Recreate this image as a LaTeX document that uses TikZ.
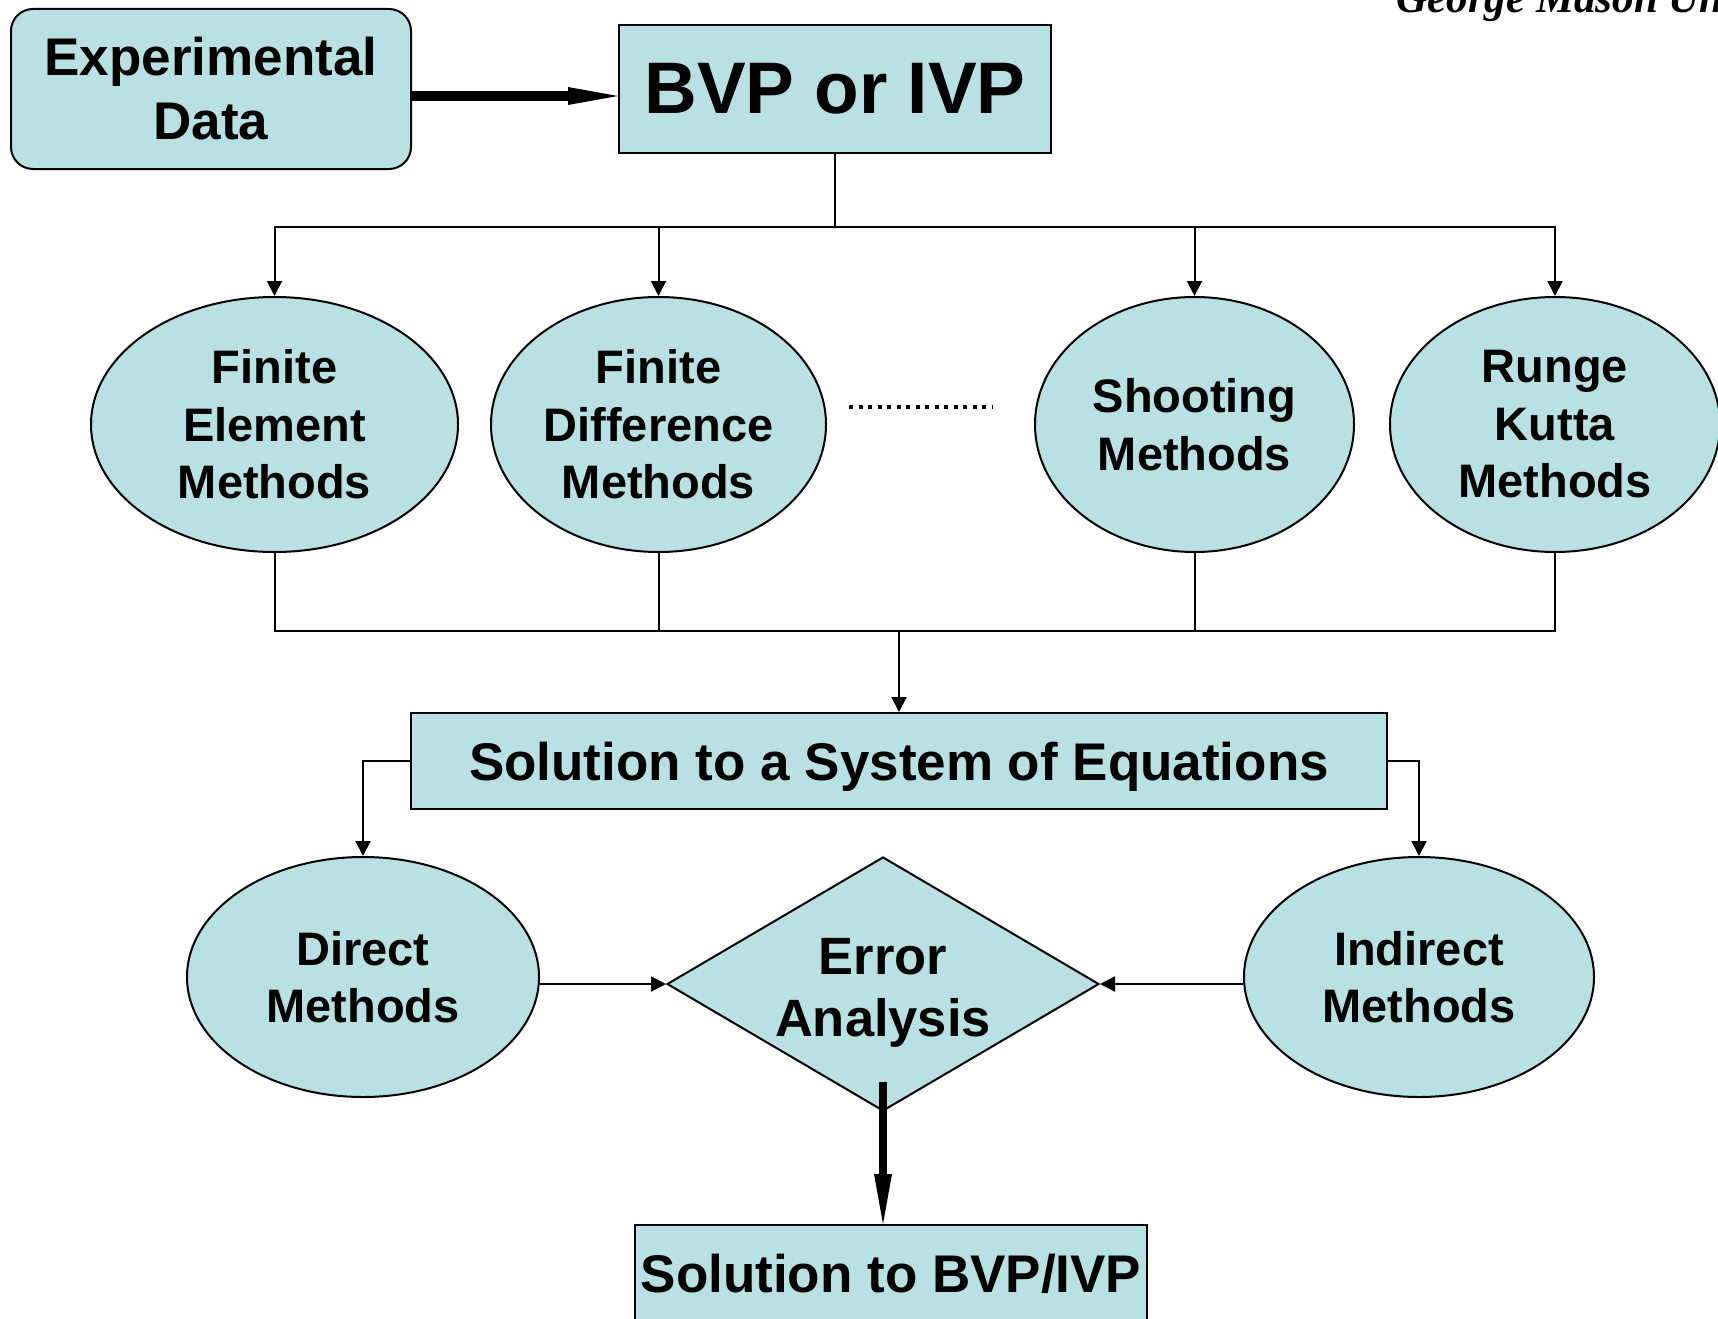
\documentclass[tikz,border=0pt]{standalone}
\usepackage{fontspec}
\setmainfont{Liberation Sans}
\newfontfamily\mastfont{Liberation Serif}
\usepackage{tikz}
\usetikzlibrary{positioning}
\usetikzlibrary{arrows.meta,shapes.geometric}
\definecolor{paleblue}{RGB}{185,224,227}

\begin{document}
\begin{tikzpicture}[x=1pt,y=-1pt,
	box/.style={draw,fill=paleblue,line width=2pt,align=center,inner sep=0pt},
	oval/.style={ellipse,draw,fill=paleblue,line width=2pt,align=center,inner sep=0pt,
		minimum height=255pt,font=\fontsize{47}{57.5}\selectfont\bfseries},
	link/.style={line width=2pt,-{Triangle[length=15pt,width=15pt]}},
	wire/.style={line width=2pt},
	fat/.style={line width=#1,-{Triangle[length=50pt,width=18pt,line width=0pt]}}]
				\useasboundingbox (0,0) rectangle (1718,1319);
				\node[anchor=base west,font=\fontsize{43}{50}\selectfont\mastfont\bfseries\itshape](gmu) at (1393,13) {George Mason University};

				\node[box,rounded corners=22pt,minimum width=400pt,minimum height=160pt,
					font=\fontsize{53}{64}\selectfont\bfseries](exp) at (211,89) {Experimental\\Data};
				\node[box,minimum width=432pt,minimum height=127pt,
					font=\fontsize{73}{80}\selectfont\bfseries](bvp) at (835,89) {BVP or IVP};
				\coordinate[below=73pt of bvp.south](split);

				\node[oval,minimum width=367pt](fem) at (274.5,424.5) {Finite\\Element\\Methods};
				\node[oval,minimum width=335pt](fdm) at (658.5,424.5) {Finite\\Difference\\Methods};
				\node[oval,minimum width=319pt](shoot) at (1194.5,424.5) {Shooting\\Methods};
				\node[oval,minimum width=330pt](rk) at (1555,424.5) {Runge\\Kutta\\Methods};
				\coordinate (dotsL) at (849,407);
				\coordinate (dotsR) at (992,407);

				\node[box,minimum width=976pt,minimum height=96pt,text height=38pt,text depth=0pt,
					font=\fontsize{53}{60}\selectfont\bfseries](soe) at (899,761) {Solution to a System of Equations};
				\coordinate[above=81pt of soe.north](merge);

				\node[oval,minimum width=352pt,minimum height=240pt](direct) at (363,977) {Direct\\Methods};
				\node[oval,minimum width=350pt,minimum height=240pt](indirect) at (1419,977) {Indirect\\Methods};
				\node[diamond,draw,fill=paleblue,line width=2pt,align=center,inner sep=0pt,aspect=1.7,
					minimum width=432pt,minimum height=254pt,
					font=\fontsize{52.5}{62}\selectfont\bfseries](err) at (883,984) {\rule{0pt}{54pt}Error\\Analysis};

				\node[box,minimum width=512pt,minimum height=98pt,
					font=\fontsize{53}{60}\selectfont\bfseries](final) at (891,1274) {Solution to BVP/IVP};

				\draw[fat=10pt] ([yshift=-7pt]exp.east) to ([yshift=-7pt]bvp.west);
				\draw[wire] (bvp) to (split);
				\draw[link] (split) -| (fem);
				\draw[link] (split) -| (fdm);
				\draw[link] (split) -| (shoot);
				\draw[link] (split) -| (rk);
				\draw[line width=4pt,dash pattern=on 4pt off 5.5pt] (dotsL) to (dotsR);
				\draw[wire] (fem) |- (merge);
				\draw[wire] (fdm) |- (merge);
				\draw[wire] (shoot) |- (merge);
				\draw[wire] (rk) |- (merge);
				\draw[link] (merge) to (soe);
				\draw[link] (soe.west) -| (direct);
				\draw[link] (soe.east) -| (indirect);
				\draw[link] (direct.east |- err) to (err.west);
				\draw[link] (indirect.west |- err) to (err.east);
				\draw[fat=8pt] ([yshift=30pt]err.south) to (err.south |- final.north);
			\end{tikzpicture}
\end{document}
